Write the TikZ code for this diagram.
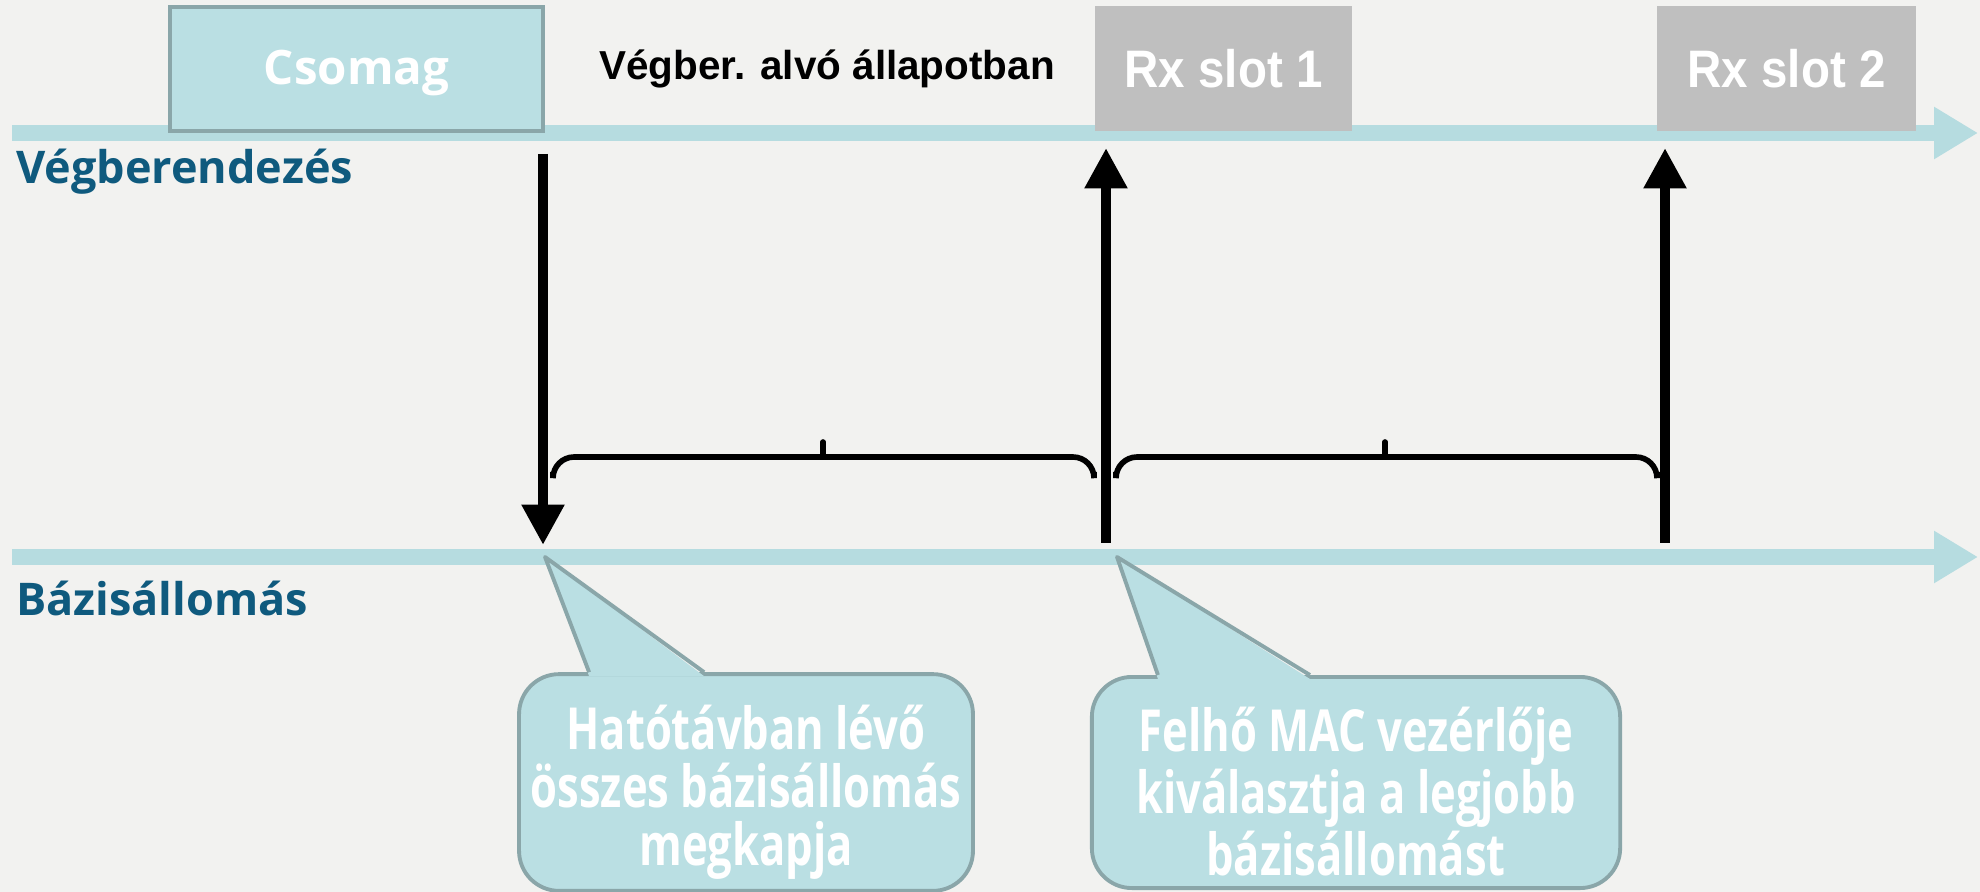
\documentclass[tikz,border=0pt]{standalone}
\usepackage{fontspec}
\setmainfont{Open Sans}
\newfontfamily\slotfont[FakeStretch=0.9]{Liberation Sans}
\newfontfamily\sleepfont{Liberation Sans}
\newfontfamily\calloutfont[FakeStretch=0.75]{Open Sans}
\usetikzlibrary{arrows.meta, positioning, calc}

\definecolor{bgcol}{HTML}{F2F2F0}
\definecolor{bandcol}{HTML}{B6DCE0}
\definecolor{boxcol}{HTML}{BADFE3}
\definecolor{boxline}{HTML}{8AA6A9}
\definecolor{slotgray}{HTML}{BFBFBF}
\definecolor{darkteal}{HTML}{0F5A7E}

\begin{document}
\begin{tikzpicture}[x=0.01cm, y=-0.01cm]
    % --- Definitions ---
    % Canvas
    \fill[bgcol] (0,0) rectangle (1980,892);
    \useasboundingbox (0,0) rectangle (1980,892);

    % The two time axes
    \coordinate (top_start) at (12,133);
    \coordinate (top_end) at (1978,133);
    \coordinate (bot_start) at (12,557);
    \coordinate (bot_end) at (1978,557);

    % Ends of the transmission / slot arrows
    \coordinate (pkt_from) at (543,154);
    \coordinate (pkt_to) at (543,545);
    \coordinate (rx1_from) at (1106,543);
    \coordinate (rx1_to) at (1106,148);
    \coordinate (rx2_from) at (1665,543);
    \coordinate (rx2_to) at (1665,148);

    % Where the callouts point to
    \coordinate (bs_recv) at (545,557);
    \coordinate (bs_select) at (1117,557);

    % --- Styles ---
    \tikzstyle{time_axis}=[line width=4.5pt, color=bandcol, -{Triangle[length=12.5pt, width=14pt]}]
    \tikzstyle{axis_label}=[anchor=west, inner xsep=1pt, color=darkteal, font=\bfseries\fontsize{12.8}{15}\selectfont]
    \tikzstyle{pkt_box}=[
        draw=boxline,
        fill=boxcol,
        line width=1.1pt,
        minimum width=3.73cm,
        minimum height=1.24cm,
        text=white,
        font=\bfseries\fontsize{13.5}{16}\selectfont
    ]
    \tikzstyle{slot_box}=[
        fill=slotgray,
        minimum width=2.57cm,
        minimum height=1.24cm,
        text=white,
        font=\slotfont\bfseries\fontsize{15}{17}\selectfont
    ]
    \tikzstyle{event_arrow}=[line width=3pt, -{Triangle[length=11.5pt, width=11.5pt]}]
    \tikzstyle{brace_line}=[line width=1.6pt, rounded corners=6]
    \tikzstyle{brace_tip}=[line width=1.6pt, line cap=round]
    \tikzstyle{bubble}=[
        draw=boxline,
        fill=boxcol,
        line width=1.1pt,
        rounded corners=0.4cm,
        minimum width=4.52cm,
        minimum height=2.09cm,
        align=center,
        text=white,
        font=\calloutfont\bfseries\fontsize{16.5}{16.5}\selectfont
    ]
    \tikzstyle{bubble_tail}=[draw=boxline, line width=1.1pt, line join=round]

    % --- 1. Time axes ---
    \draw[time_axis] (top_start) -- (top_end);
    \draw[time_axis] (bot_start) -- (bot_end);
    \node[axis_label] (dev_lbl) at (12,172) {Végberendezés};
    \node[axis_label] (bs_lbl) at (12,598) {Bázisállomás};

    % --- 2. Packet and receive slots ---
    \node[pkt_box] (csomag) at (356.5,69) {};
    \node[text=white, font=\bfseries\fontsize{13.5}{16}\selectfont] (csomag_txt) at (356.5,73) {Csomag};
    \node[font=\sleepfont\bfseries\fontsize{11.5}{13}\selectfont] (sleep_lbl) at (827,69) {Végber. alvó állapotban};
    \node[slot_box] (rx1) at (1223.5,68.5) {Rx slot 1};
    \node[slot_box, minimum width=2.59cm] (rx2) at (1786.5,68.5) {Rx slot 2};

    % --- 3. Arrows ---
    \draw[event_arrow] (pkt_from) -- (pkt_to);
    \draw[event_arrow] (rx1_from) -- (rx1_to);
    \draw[event_arrow] (rx2_from) -- (rx2_to);

    % --- 4. Braces (waiting times) ---
    \draw[brace_line] (553,472) -- (553,457) -- (1094,457) -- (1094,472);
    \draw[brace_tip] (823,457) -- (823,442);
    \draw[brace_line] (1116,472) -- (1116,457) -- (1657,457) -- (1657,472);
    \draw[brace_tip] (1385,457) -- (1385,442);

    % --- 5. Callouts ---
    \node[bubble] (bubble1) at (746,782.5) {\rule{0pt}{18pt}Hatótávban lévő\\összes bázisállomás\\megkapja};
    \node[bubble, minimum width=5.28cm] (bubble2) at (1356,782.5) {\rule{0pt}{18pt}Felhő MAC vezérlője\\kiválasztja a legjobb\\bázisállomást};

    \coordinate (b1l) at ($(bubble1.north west)+(72,0)$);
    \coordinate (b1r) at ($(bubble1.north west)+(187,0)$);
    \coordinate (b2l) at ($(bubble2.north west)+(68,0)$);
    \coordinate (b2r) at ($(bubble2.north west)+(220,0)$);

    \fill[boxcol] ($(b1l)+(0,4)$) -- (bs_recv) -- ($(b1r)+(0,4)$) -- cycle;
    \draw[bubble_tail] (b1l) -- (bs_recv) -- (b1r);
    \fill[boxcol] ($(b2l)+(0,4)$) -- (bs_select) -- ($(b2r)+(0,4)$) -- cycle;
    \draw[bubble_tail] (b2l) -- (bs_select) -- (b2r);

\end{tikzpicture}
\end{document}
